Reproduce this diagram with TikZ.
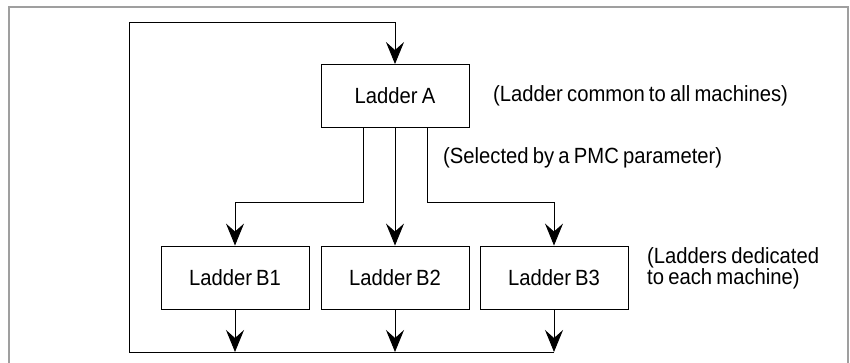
\documentclass[tikz,border=0pt]{standalone}
\usepackage{fontspec}
\setmainfont{Liberation Sans}[FakeStretch=0.92,WordSpace=0.75]
\usetikzlibrary{arrows.meta}
\begin{document}
\begin{tikzpicture}[x=1pt,y=-1pt,
  font=\fontsize{22}{21}\selectfont,
  ladder/.style={draw,line width=0.9pt,minimum width=148pt,minimum height=63pt,inner sep=0pt},
  wire/.style={line width=0.9pt},
  arr/.style={wire,-{Stealth[length=22pt,width=18pt,inset=8pt]}},
  note/.style={anchor=west,inner sep=0pt,align=left}]
  \useasboundingbox (0,0) rectangle (850,363);
  % page frame
  \draw[line width=2pt,gray!75] (9,370) -- (9,7) -- (848,7) -- (848,370);

  % ladder blocks
  \node[ladder] (A)  at (395,96)    {Ladder A};
  \node[ladder] (B1) at (235,277.5) {Ladder B1};
  \node[ladder] (B2) at (395,277.5) {Ladder B2};
  \node[ladder] (B3) at (554,277.5) {Ladder B3};

  % notes
  \node[note] (nA)  at (493,96)  {(Ladder common to all machines)};
  \node[note] (nS)  at (443,158) {(Selected by a PMC parameter)};
  \node[note] (nB)  at (647,268) {(Ladders dedicated\\to each machine)};

  % routing points
  \coordinate (sl)  at (363,202);
  \coordinate (sr)  at (427,202);
  \coordinate (bus) at (129,352);
  \coordinate (top) at (129,22);

  % branches from Ladder A
  \draw[arr] ([xshift=-32pt]A.south) -- (sl) -| (B1.north);
  \draw[arr] (A.south) -- (B2.north);
  \draw[arr] ([xshift=32pt]A.south) -- (sr) -| (B3.north);

  % outputs to the common bus
  \draw[arr] (B1.south) -- (B1.south |- bus);
  \draw[arr] (B2.south) -- (B2.south |- bus);
  \draw[arr] (B3.south) -- (B3.south |- bus);

  % bus and loop back to Ladder A
  \draw[arr] (B3.south |- bus) -- (bus) -- (top) -| (A.north);
\end{tikzpicture}
\end{document}
